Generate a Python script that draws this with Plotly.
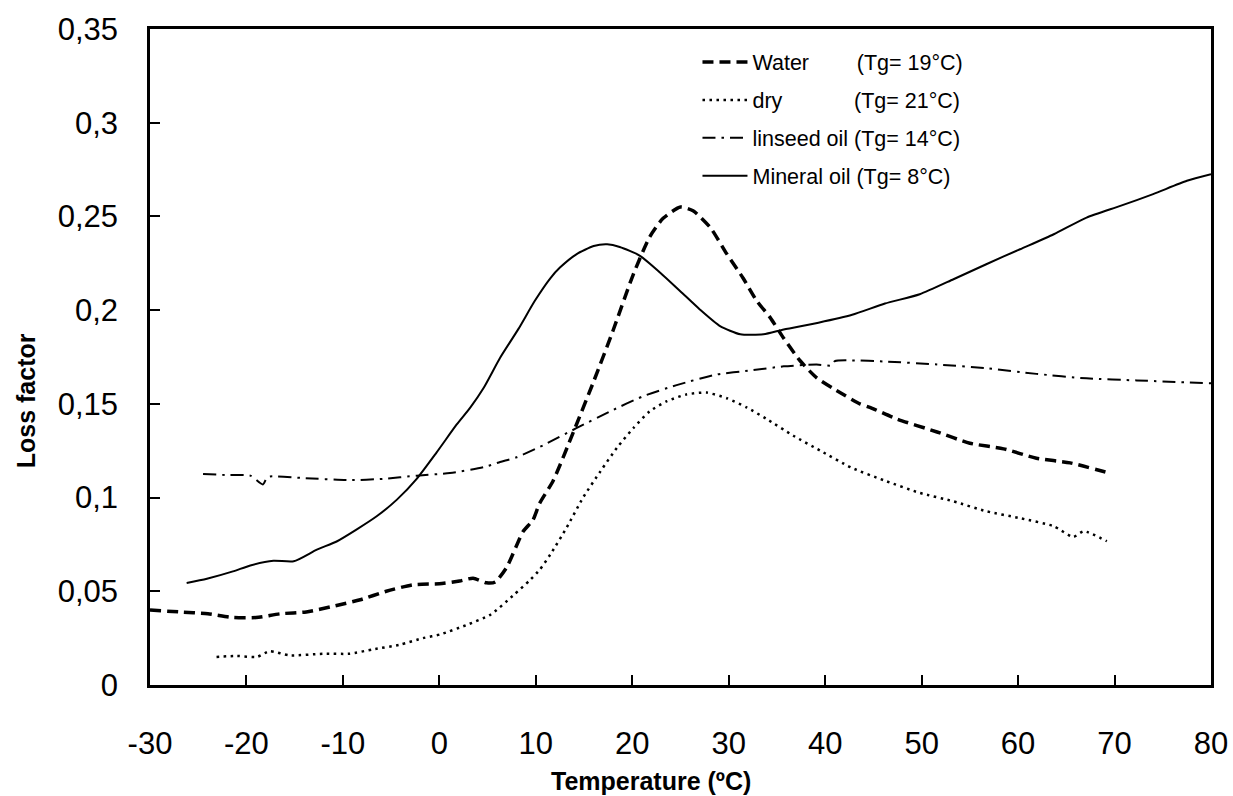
import plotly.graph_objects as go

# ---- data ----
water_x = [-30, -27, -24, -21.4, -19, -16.5, -13.8, -11, -8.2, -5.5, -2.7, 0, 2.1, 3.5, 4.9, 5.8,
           7.0, 8.7, 9.7, 10.4, 11.8, 13.9, 16.0, 18.0, 20.1, 21.8, 23.2, 25.0, 26.3, 28.1, 29.8,
           31.5, 32.9, 34.3, 35.7, 37.4, 39.1, 40.9, 43.6, 44.7, 47.4, 51.6, 55.0, 58.5, 61.9,
           65.4, 69.5]
water_y = [0.040, 0.039, 0.038, 0.036, 0.036, 0.038, 0.039, 0.042, 0.0455, 0.050, 0.0535, 0.054,
           0.0555, 0.057, 0.0545, 0.055, 0.063, 0.082, 0.088, 0.097, 0.109, 0.135, 0.162, 0.189,
           0.219, 0.239, 0.249, 0.255, 0.253, 0.244, 0.230, 0.217, 0.205, 0.196, 0.185, 0.173,
           0.164, 0.158, 0.150, 0.148, 0.142, 0.135, 0.129, 0.126, 0.121, 0.1185, 0.113]

dry_x = [-23.1, -21, -18.9, -17.6, -15.5, -12, -9.3, -6.9, -4.1, -1.7, 0.1, 2.8, 5.3, 7.7, 9.4,
         10.4, 11.5, 13.2, 14.9, 16.7, 18.4, 20.1, 21.8, 23.6, 25.6, 27.7, 29.8, 31.9, 33.9, 36.7,
         39.5, 42.7, 46.2, 49.8, 53.3, 56.7, 60.2, 63.7, 65.7, 66.8, 69.2]
dry_y = [0.015, 0.0155, 0.015, 0.018, 0.0158, 0.0167, 0.0167, 0.019, 0.0215, 0.025, 0.027, 0.032,
         0.0375, 0.048, 0.056, 0.0615, 0.0696, 0.084, 0.100, 0.114, 0.1265, 0.137, 0.146, 0.1514,
         0.155, 0.156, 0.153, 0.148, 0.142, 0.133, 0.125, 0.116, 0.109, 0.1025, 0.098, 0.0927,
         0.089, 0.0847, 0.079, 0.082, 0.0767]

linseed_x = [-24.5, -22, -19.6, -18.3, -17.8, -14.4, -9.3, -5.8, -2.35, 1.1, 4.6, 6.3, 8.0, 10.8,
             14.2, 17.7, 21.1, 24.6, 28.8, 32.2, 35.7, 39.1, 40.7, 41.0, 42.6, 46.2, 51.6, 56.7,
             61.9, 67.1, 72.3, 80]
linseed_y = [0.1126, 0.112, 0.1117, 0.107, 0.111, 0.1105, 0.1093, 0.110, 0.1117, 0.1131, 0.1162,
             0.119, 0.1215, 0.128, 0.137, 0.146, 0.154, 0.160, 0.1657, 0.1678, 0.170, 0.171,
             0.1705, 0.1728, 0.1732, 0.1726, 0.171, 0.169, 0.166, 0.1636, 0.1625, 0.161]

mineral_x = [-26.2, -24.1, -21.4, -19.6, -17.2, -15.1, -12.7, -10.6, -8.6, -6.5, -4.4, -2.35, -0.3,
             1.8, 3.2, 4.6, 6.3, 8.2, 9.9, 11.5, 12.5, 14.2, 16.0, 17.4, 18.7, 20.8, 22.9, 25.0,
             27.0, 29.1, 31.2, 33.6, 35.7, 39.3, 42.8, 46.2, 49.8, 53.3, 56.7, 60.2, 63.7, 67.1,
             70.6, 74.0, 77.5, 80]
mineral_y = [0.0544, 0.0567, 0.0606, 0.0638, 0.0663, 0.066, 0.0722, 0.0767, 0.0829, 0.090, 0.0989,
             0.110, 0.124, 0.139, 0.148, 0.1586, 0.1746, 0.190, 0.205, 0.217, 0.2227, 0.2298,
             0.2342, 0.2351, 0.2337, 0.229, 0.220, 0.210, 0.2004, 0.1915, 0.1871, 0.1871, 0.1897,
             0.1933, 0.1975, 0.2035, 0.2085, 0.2165, 0.2245, 0.2325, 0.2405, 0.2494, 0.2556,
             0.2619, 0.269, 0.2725]

series_names = ["Water", "dry", "linseed oil", "Mineral oil"]
tg_labels = ["(Tg= 19°C)", "(Tg= 21°C)", "(Tg= 14°C)", "(Tg= 8°C)"]

x_ticks = [-30, -20, -10, 0, 10, 20, 30, 40, 50, 60, 70, 80]
x_tick_text = ["-30", "-20", "-10", "0", "10", "20", "30", "40", "50", "60", "70", "80"]
y_ticks = [0, 0.05, 0.1, 0.15, 0.2, 0.25, 0.3, 0.35]
y_tick_text = ["0", "0,05", "0,1", "0,15", "0,2", "0,25", "0,3", "0,35"]

x_title = "Temperature (ºC)"
y_title = "Loss factor"

NB = "\u00a0"
pads = [NB * 8, NB * 12, NB, NB]

FONT = "Liberation Sans, Arial, sans-serif"

fig = go.Figure()
styles = [
    dict(color="black", width=3.5, dash="11px,6px"),
    dict(color="black", width=2.5, dash="2.5px,4.5px"),
    dict(color="black", width=2, dash="13px,6px,2.5px,6px"),
    dict(color="black", width=2, dash="solid"),
]
data = [(water_x, water_y), (dry_x, dry_y), (linseed_x, linseed_y), (mineral_x, mineral_y)]
for i, ((xs, ys), st) in enumerate(zip(data, styles)):
    fig.add_trace(go.Scatter(
        x=xs, y=ys, mode="lines",
        line=dict(shape="spline", smoothing=0.6, **st),
        name=series_names[i] + pads[i] + tg_labels[i],
        legendgroup="g%d" % i,
    ))

fig.update_layout(
    width=1233, height=796,
    margin=dict(l=150, r=22, t=29, b=111, autoexpand=False),
    paper_bgcolor="white", plot_bgcolor="white",
    font=dict(family=FONT, color="black"),
    showlegend=True,
    legend=dict(
        x=0.516, y=0.981, xanchor="left", yanchor="top",
        font=dict(size=21.5, family=FONT, color="black"),
        bgcolor="rgba(0,0,0,0)", itemwidth=45, tracegroupgap=7,
        traceorder="grouped",
    ),
    xaxis=dict(
        range=[-30, 80], tickvals=x_ticks, ticktext=x_tick_text, ticks="inside", ticklen=10,
        tickwidth=1.5, tickcolor="black", showgrid=False, zeroline=False, showline=True,
        linecolor="black", linewidth=2.5, mirror=True, tickfont=dict(size=31, family=FONT),
        ticklabelstandoff=29, automargin=False,
    ),
    yaxis=dict(
        range=[0, 0.35], tickvals=y_ticks, ticktext=y_tick_text, ticks="inside", ticklen=10,
        tickwidth=1.5, tickcolor="black", showgrid=False, zeroline=False, showline=True,
        linecolor="black", linewidth=2.5, mirror=True, tickfont=dict(size=31, family=FONT),
        ticklabelstandoff=23, automargin=False,
    ),
    annotations=[
        dict(text="<b>%s</b>" % x_title, xref="paper", yref="paper", x=0.472, y=-0.146,
             xanchor="center", yanchor="middle", showarrow=False,
             font=dict(size=25, family=FONT, color="black")),
        dict(text="<b>%s</b>" % y_title, xref="paper", yref="paper", x=-0.1169, y=0.434,
             xanchor="center", yanchor="middle", showarrow=False, textangle=-90,
             font=dict(size=25, family=FONT, color="black")),
    ],
)

fig.write_html("out.html", config={"displayModeBar": False},
               post_script="document.body.style.margin='0';")
